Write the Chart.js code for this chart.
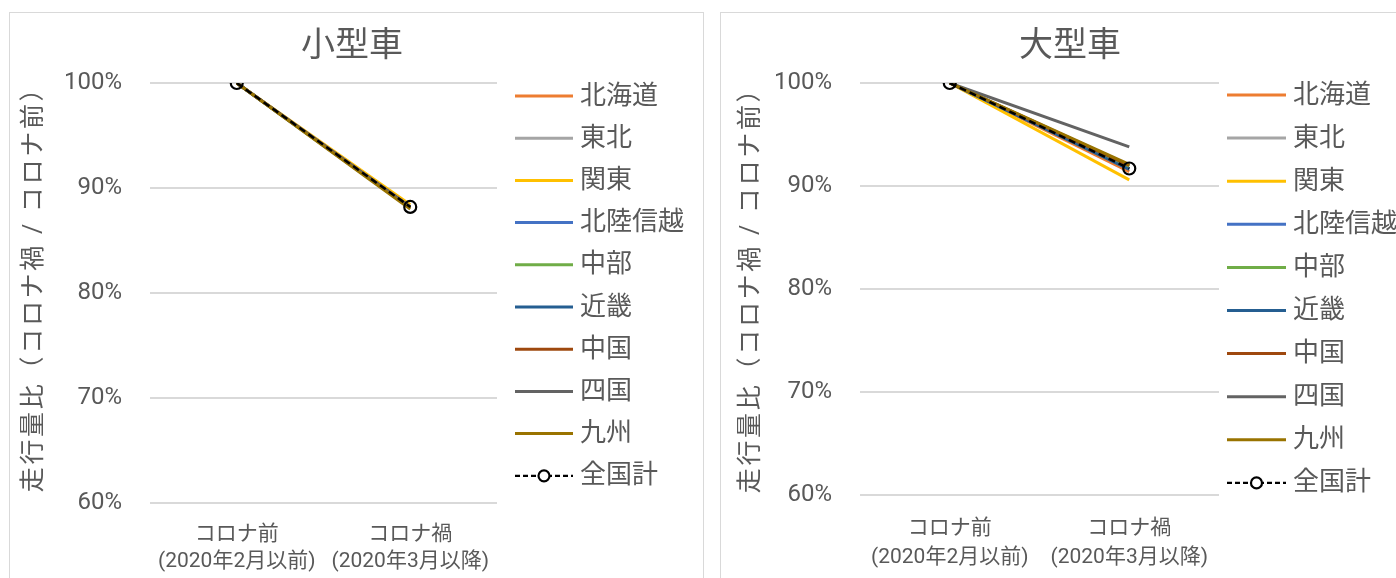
<!DOCTYPE html>
<html><head><meta charset="utf-8">
<script src="https://cdn.jsdelivr.net/npm/chart.js@4.4.0/dist/chart.umd.min.js"></script>
<style>
html,body{margin:0;padding:0;background:#fff;overflow:hidden;width:1396px;height:578px;}
.panel{position:absolute;border:1px solid #d9d9d9;background:#fff;}
#p1{left:9px;top:12px;width:693px;height:580px;}
#p2{left:720px;top:12px;width:693px;height:580px;}
canvas{display:block;}
</style></head><body>
<div class="panel" id="p1"><canvas id="c1" width="693" height="570"></canvas></div>
<div class="panel" id="p2"><canvas id="c2" width="693" height="570"></canvas></div>
<script>
// ---- data ----
const categories = [['コロナ前', '(2020年2月以前)'], ['コロナ禍', '(2020年3月以降)']];
const regions = ['北海道', '東北', '関東', '北陸信越', '中部', '近畿', '中国', '四国', '九州', '全国計'];
const regionColors = ['#ED7D31', '#A5A5A5', '#FFC000', '#4472C4', '#70AD47', '#255E91', '#9E480E', '#636363', '#997300', '#000000'];
// 走行量比: コロナ前 = 100%
const smallBefore = [1.00, 1.00, 1.00, 1.00, 1.00, 1.00, 1.00, 1.00, 1.00, 1.00];
const smallAfter  = [0.882, 0.882, 0.884, 0.882, 0.881, 0.881, 0.882, 0.882, 0.880, 0.882];
const largeBefore = [1.00, 1.00, 1.00, 1.00, 1.00, 1.00, 1.00, 1.00, 1.00, 1.00];
const largeAfter  = [0.914, 0.920, 0.906, 0.917, 0.919, 0.916, 0.920, 0.938, 0.921, 0.917];
const yTicks = [0.6, 0.7, 0.8, 0.9, 1.0];
const yTitle = '走行量比（コロナ禍 / コロナ前）';

const FONT = "Roboto, 'Noto Sans CJK JP', sans-serif";
const GREY = '#595959';

const excelLegend = {
  id: 'excelLegend',
  afterDraw(chart, args, o) {
    const ctx = chart.ctx;
    ctx.save();
    chart.data.datasets.forEach((ds, i) => {
      const y = o.y + i * o.gap;
      ctx.strokeStyle = ds.borderColor;
      ctx.lineWidth = ds.borderDash ? 2.2 : ds.borderWidth;
      ctx.setLineDash(ds.borderDash ? o.dash : []);
      ctx.beginPath();
      ctx.moveTo(o.x, y);
      ctx.lineTo(o.x + o.lineLen, y);
      ctx.stroke();
      ctx.setLineDash([]);
      if (ds.pointRadius > 0) {
        ctx.lineWidth = 2.2;
        ctx.strokeStyle = ds.pointBorderColor;
        ctx.fillStyle = '#fff';
        ctx.beginPath();
        ctx.arc(o.x + o.lineLen / 2, y, o.pointR, 0, Math.PI * 2);
        ctx.fill();
        ctx.stroke();
      }
      ctx.fillStyle = GREY;
      ctx.font = o.fontSize + 'px ' + FONT;
      ctx.textAlign = 'left';
      ctx.textBaseline = 'middle';
      ctx.fillText(ds.label, o.x + o.lineLen + o.textGap, y + 1);
    });
    ctx.restore();
  }
};

function buildDatasets(before, after) {
  return regions.map((r, i) => {
    const total = (r === '全国計');
    return {
      label: r,
      order: regions.length - i,
      data: [before[i], after[i]],
      borderColor: regionColors[i],
      backgroundColor: regionColors[i],
      borderWidth: total ? 2.5 : 3,
      borderDash: total ? [7, 4] : undefined,
      pointRadius: total ? 6 : 0,
      pointHoverRadius: total ? 6 : 0,
      pointBorderWidth: 2.2,
      pointBorderColor: '#000',
      pointBackgroundColor: 'rgba(255,255,255,0)',
      tension: 0,
      fill: false
    };
  });
}

function spacedTitle(s, shift) {
  if (!s._spaced) {
    const orig = s.drawTitle.bind(s);
    s.drawTitle = function () {
      this.ctx.save();
      this.ctx.letterSpacing = '2.7px';
      this.ctx.translate(0, shift);
      orig();
      this.ctx.restore();
    };
    s._spaced = true;
  }
}

function makeChart(id, title, before, after, cfg) {
  return new Chart(document.getElementById(id), {
    type: 'line',
    data: { labels: categories, datasets: buildDatasets(before, after) },
    plugins: [excelLegend],
    options: {
      responsive: false,
      animation: false,
      events: [],
      layout: { padding: { left: cfg.padLeft, right: cfg.padRight, top: 0, bottom: 0 } },
      plugins: {
        legend: { display: false },
        tooltip: { enabled: false },
        title: {
          display: true, text: title, color: GREY,
          font: { family: FONT, size: 34, weight: 'normal', lineHeight: 1.2 },
          padding: { top: 13.6, bottom: 15.6 }
        },
        excelLegend: cfg.legend
      },
      scales: {
        x: {
          offset: true,
          grid: { display: false },
          border: { display: false },
          ticks: {
            color: GREY, maxRotation: 0, minRotation: 0, autoSkip: false,
            padding: cfg.xPad,
            font: { family: FONT, size: 21, lineHeight: cfg.xLine }
          },
          afterFit: s => { s.height = cfg.xHeight; }
        },
        y: {
          min: yTicks[0], max: yTicks[yTicks.length - 1],
          afterBuildTicks: s => { s.ticks = yTicks.map(v => ({ value: v })); },
          grid: { color: '#d9d9d9', lineWidth: 2, drawTicks: false },
          border: { display: false },
          ticks: {
            color: GREY, padding: 28,
            font: { family: FONT, size: 24 },
            callback: v => Math.round(v * 100) + '%'
          },
          title: {
            display: true, text: yTitle, color: GREY,
            font: { family: FONT, size: 25, lineHeight: 1.2 },
            padding: { top: cfg.yTitlePad, bottom: 0 }
          },
          afterFit: s => { s.width = cfg.yWidth; spacedTitle(s, cfg.yTitleShift); }
        },
        spacer: {
          type: 'linear', position: 'right', display: true,
          grid: { display: false, drawTicks: false },
          border: { display: false },
          ticks: { display: false },
          afterFit: s => { s.width = cfg.spacerWidth; }
        }
      }
    }
  });
}

makeChart('c1', '小型車', smallBefore, smallAfter, {
  padLeft: 0, padRight: 9, spacerWidth: 197,
  yWidth: 140, xHeight: 80, xPad: 10, xLine: 1.3, yTitlePad: 10, yTitleShift: -10,
  legend: { x: 505, y: 83, gap: 42.2, lineLen: 58, textGap: 7, fontSize: 26, dash: [5, 3], pointR: 5.5 }
});
makeChart('c2', '大型車', largeBefore, largeAfter, {
  padLeft: 5, padRight: 0, spacerWidth: 195,
  yWidth: 134, xHeight: 88, xPad: 11.5, xLine: 1.38, yTitlePad: 11, yTitleShift: -5,
  legend: { x: 506, y: 82, gap: 43.1, lineLen: 59, textGap: 7, fontSize: 26, dash: [5, 3], pointR: 5.5 }
});
</script>
</body></html>
